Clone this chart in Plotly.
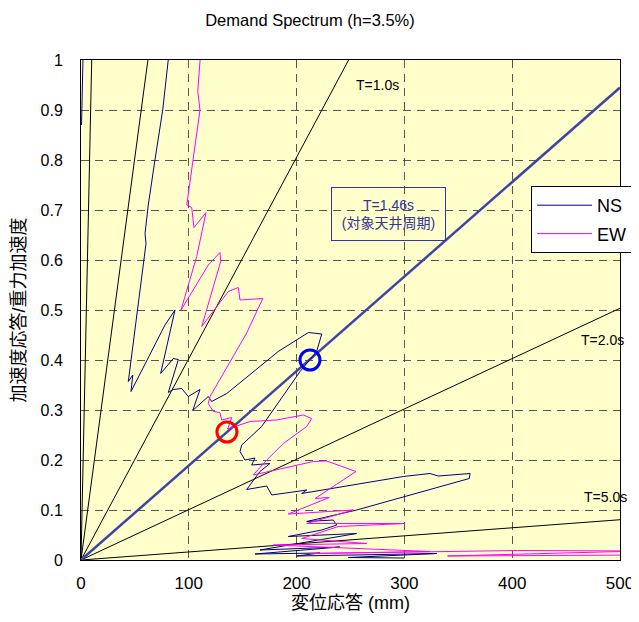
import numpy as np
import plotly.graph_objects as go

# ---- data (Sd in mm, Sa in g) ----
ns_sd = [0.5, 2.0, 10, 50, 83.5, 75.8, 68.6, 62.4, 59.4, 60.3, 43.9, 48.0, 46.4, 77.9, 87.2,
         73.9, 85.6, 90.3, 81.0, 85.6, 93.4, 99.5, 110.4, 103.6, 118.1, 121.2, 135.2, 183.0,
         210.9, 223.3, 218.6, 203.2, 167.6, 149.1, 147.5, 152.1, 161.4, 158.3, 175.3, 166.0,
         153.7, 172.3, 176.9, 209.4, 204.7, 299.0, 323.7, 331.4, 360.9, 360.2, 255.7, 209.4,
         234.0, 237.2, 223.3, 192.3, 255.7, 166.0, 240.0, 161.4, 221.7, 200.0, 330.0, 248.0, 300.0]
ns_sa = [0.87, 1.02, 1.4, 1.6, 1.05, 0.90, 0.80, 0.71, 0.653, 0.633, 0.357, 0.37, 0.337, 0.47, 0.50,
         0.373, 0.403, 0.401, 0.335, 0.341, 0.343, 0.327, 0.341, 0.299, 0.327, 0.317, 0.333, 0.417,
         0.455, 0.452, 0.417, 0.377, 0.267, 0.23, 0.217, 0.20, 0.204, 0.19, 0.193, 0.177,
         0.141, 0.148, 0.13, 0.14, 0.133, 0.167, 0.173, 0.168, 0.173, 0.163, 0.10, 0.077,
         0.08, 0.07, 0.06, 0.047, 0.053, 0.02, 0.026, 0.012, 0.014, 0.008, 0.013, 0.005, 0.004]

ew_sd = [0, 60, 111.5, 108.3, 110.4, 103.6, 98.1, 102.7, 104.8, 116.0, 107.3, 92.8, 118.1, 128.9,
         129.6, 112.0, 136.6, 145.9, 147.5, 168.6, 153.7, 119.7, 118.1, 122.7, 128.9, 130.5, 139.8,
         136.0, 156.8, 181.5, 206.2, 214.0, 209.4, 187.7, 172.3, 159.8, 215.5, 227.9, 243.3, 255.1,
         217.1, 230.3, 192.3, 252.6, 209.4, 300.6, 238.7, 204.7, 265.0, 178.4, 323.7, 212.4, 405.0,
         520.0, 340.0, 520.0]
ew_sa = [1.1, 1.8, 1.03, 0.937, 0.90, 0.80, 0.71, 0.705, 0.665, 0.695, 0.607, 0.50, 0.59, 0.615,
         0.597, 0.467, 0.537, 0.545, 0.52, 0.523, 0.454, 0.327, 0.313, 0.297, 0.295, 0.28, 0.285,
         0.262, 0.277, 0.28, 0.29, 0.283, 0.267, 0.233, 0.20, 0.17, 0.197, 0.198, 0.187, 0.177,
         0.123, 0.125, 0.092, 0.10, 0.073, 0.073, 0.067, 0.043, 0.033, 0.03, 0.017, 0.013, 0.019,
         0.018, 0.008, 0.01]

periods = [0.2, 0.5, 1.0, 2.0, 5.0]
target_period = 1.46
ns_point_sd, ns_point_sa = [212.4], [0.40]
ew_point_sd, ew_point_sa = [135.4], [0.256]

x_ticks = [0, 100, 200, 300, 400, 500]
y_ticks = [0, 0.1, 0.2, 0.3, 0.4, 0.5, 0.6, 0.7, 0.8, 0.9, 1.0]
y_tick_text = ["0", "0.1", "0.2", "0.3", "0.4", "0.5", "0.6", "0.7", "0.8", "0.9", "1"]

G = 9800.0  # mm/s^2
FONT = "Liberation Sans, Arial, Noto Sans CJK JP, sans-serif"


def period_line(T):
    w2 = (2 * np.pi / T) ** 2
    xs = np.array([0.0, 500.0])
    return xs, w2 * xs / G


fig = go.Figure()

for T in periods:
    xs, ys = period_line(T)
    fig.add_trace(go.Scatter(x=xs, y=ys, mode="lines", line=dict(color="black", width=1),
                             showlegend=False, hoverinfo="skip"))

xs, ys = period_line(target_period)
fig.add_trace(go.Scatter(x=xs, y=ys, mode="lines", line=dict(color="#3F45A5", width=2.5),
                         showlegend=False, hoverinfo="skip"))

fig.add_trace(go.Scatter(x=ns_sd, y=ns_sa, mode="lines", name="NS", legendgroup="ns",
                         line=dict(color="#000080", width=1)))
fig.add_trace(go.Scatter(x=ew_sd, y=ew_sa, mode="lines", name="EW", legendgroup="ew",
                         line=dict(color="#FF00FF", width=1)))

fig.add_trace(go.Scatter(x=ns_point_sd, y=ns_point_sa, mode="markers", showlegend=False,
                         marker=dict(size=20, color="rgba(0,0,0,0)",
                                     line=dict(color="#0000FF", width=3))))
fig.add_trace(go.Scatter(x=ew_point_sd, y=ew_point_sa, mode="markers", showlegend=False,
                         marker=dict(size=20, color="rgba(0,0,0,0)",
                                     line=dict(color="#FF0000", width=3))))

ann_font = dict(family=FONT, size=14, color="black")
fig.add_annotation(x=-7.5, y=1.035, xref="x", yref="y", text="T=0.2s T=0.5s", showarrow=False,
                   xanchor="left", yanchor="middle", font=ann_font)
fig.add_annotation(x=253, y=0.95, xref="x", yref="y", text="T=1.0s", showarrow=False,
                   xanchor="left", yanchor="middle", font=ann_font)
fig.add_annotation(x=462, y=0.44, xref="x", yref="y", text="T=2.0s", showarrow=False,
                   xanchor="left", yanchor="middle", font=ann_font)
fig.add_annotation(x=465, y=0.126, xref="x", yref="y", text="T=5.0s", showarrow=False,
                   xanchor="left", yanchor="middle", font=ann_font)
fig.add_annotation(x=285.3, y=0.692, xref="x", yref="y", text="T=1.46s<br>(対象天井周期)",
                   showarrow=False, xanchor="center", yanchor="middle",
                   font=dict(family=FONT, size=14, color="#333399"),
                   bordercolor="#333399", borderwidth=1, width=113, height=52, borderpad=0)

# The page body has an 8px margin, so the figure is shifted by 8px.
fig.update_layout(
    width=631, height=614,
    margin=dict(l=73, r=19, t=52, b=62, autoexpand=False),
    paper_bgcolor="white",
    plot_bgcolor="#FFFFCC",
    font=dict(family=FONT, size=16, color="black"),
    title=dict(text="Demand Spectrum (h=3.5%)", x=0.4786, xref="container", xanchor="center",
               y=0.980, yref="container", yanchor="middle", font=dict(family=FONT, size=16.5)),
    showlegend=True,
    legend=dict(x=0.835, y=0.748, xanchor="left", yanchor="top", bgcolor="white",
                bordercolor="black", borderwidth=1, font=dict(family=FONT, size=18),
                tracegroupgap=2, itemwidth=55),
    xaxis=dict(range=[0, 500], tickvals=x_ticks, showline=True, linecolor="black", linewidth=1,
               mirror=True, showgrid=True, gridcolor="#555555", griddash="8px,6px", gridwidth=1,
               zeroline=False, ticks="", tickfont=dict(size=17), ticklabelstandoff=8,
               automargin=False,
               title=dict(text="変位応答 (mm)", font=dict(size=18), standoff=2)),
    yaxis=dict(range=[0, 1], tickvals=y_ticks, ticktext=y_tick_text, showline=True,
               linecolor="black", linewidth=1, mirror=True, showgrid=True, gridcolor="#555555",
               griddash="8px,6px", gridwidth=1, zeroline=False, ticks="", tickfont=dict(size=16),
               ticklabelstandoff=14, automargin=False,
               title=dict(text="加速度応答/重力加速度", font=dict(size=18), standoff=10)),
)

fig.write_html("out.html")
